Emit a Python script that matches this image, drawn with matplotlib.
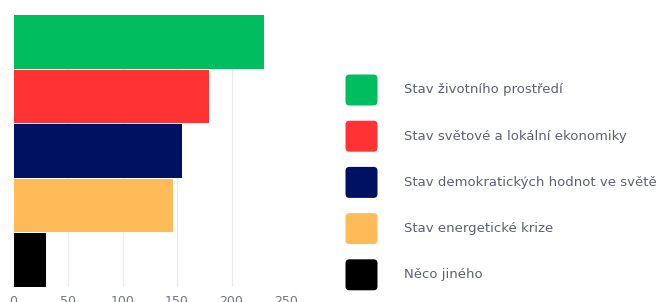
import matplotlib.pyplot as plt
from matplotlib.patches import FancyBboxPatch

categories = ['Stav životního prostředí', 'Stav světové a lokální ekonomiky',
              'Stav demokratických hodnot ve světě', 'Stav energetické krize',
              'Něco jiného']
values = [230, 179, 155, 146, 30]
colors = ['#00be5f', '#ff3333', '#001161', '#ffbb58', '#000000']
ticks = [0, 50, 100, 150, 200, 250]

plt.rcParams['font.family'] = ['DejaVu Sans']
W, H = 662, 302
fig = plt.figure(figsize=(W / 100, H / 100), dpi=100)

# bar chart, positioned in pixels
ax = fig.add_axes([13.5 / W, 15 / H, 272.5 / W, 272 / H])
pos = list(range(len(categories)))[::-1]
ax.barh(pos, values, height=0.985, color=colors, zorder=3)
ax.set_xlim(0, 250)
ax.set_ylim(-0.5, len(categories) - 0.5)
ax.set_xticks(ticks)
ax.tick_params(axis='x', length=0, labelsize=9, labelcolor='#70738a', pad=6)
ax.set_yticks([])
ax.grid(axis='x', color='#ebebef', linewidth=0.8, zorder=0)
for s in ax.spines.values():
    s.set_visible(False)

# legend drawn in pixel space
lax = fig.add_axes([0, 0, 1, 1])
lax.set_xlim(0, W)
lax.set_ylim(H, 0)
lax.axis('off')
for i, (lab, c) in enumerate(zip(categories, colors)):
    yc = 90 + i * 46.2
    lax.add_patch(FancyBboxPatch((345.5, yc - 15.5), 32, 31,
                                 boxstyle='round,pad=0,rounding_size=4',
                                 fc=c, ec='none'))
    lax.text(404, yc, lab, fontsize=9.5, color='#5c6075', va='center', ha='left')

fig.savefig('out.png', dpi=100)
